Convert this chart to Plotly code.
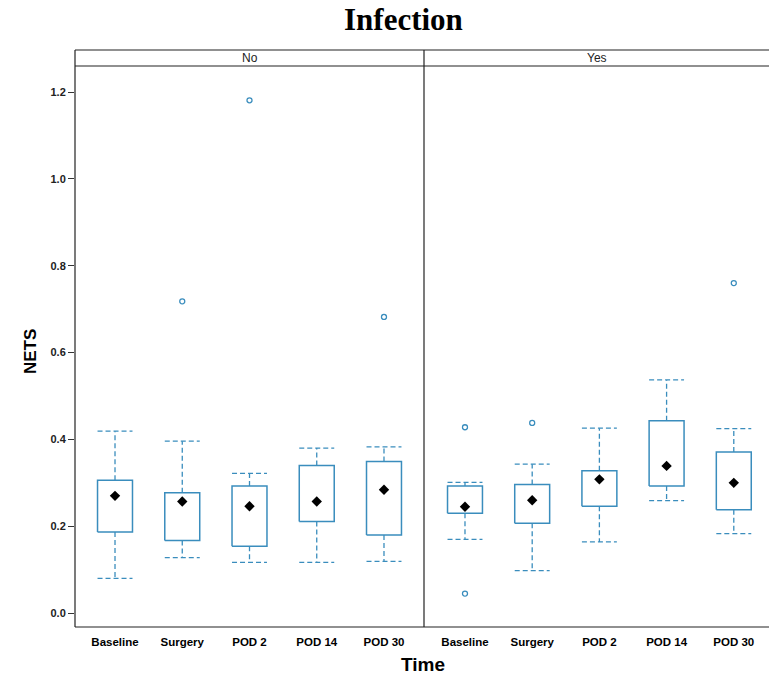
import plotly.graph_objects as go

times = ["Baseline", "Surgery", "POD 2", "POD 14", "POD 30"]

# Infection = No
no_lower = [0.080, 0.128, 0.117, 0.117, 0.119]
no_q1 = [0.187, 0.167, 0.154, 0.211, 0.180]
no_median = [0.270, 0.257, 0.246, 0.257, 0.284]
no_q3 = [0.306, 0.277, 0.293, 0.340, 0.349]
no_upper = [0.419, 0.396, 0.322, 0.380, 0.383]
no_out_x = ["Surgery", "POD 2", "POD 30"]
no_out_y = [0.718, 1.181, 0.682]

# Infection = Yes
yes_lower = [0.170, 0.098, 0.164, 0.259, 0.183]
yes_q1 = [0.230, 0.207, 0.246, 0.293, 0.238]
yes_median = [0.245, 0.260, 0.308, 0.339, 0.300]
yes_q3 = [0.293, 0.296, 0.328, 0.443, 0.371]
yes_upper = [0.301, 0.343, 0.426, 0.537, 0.425]
yes_out_x = ["Baseline", "Baseline", "Surgery", "POD 30"]
yes_out_y = [0.428, 0.045, 0.438, 0.760]

y_ticks = [0.0, 0.2, 0.4, 0.6, 0.8, 1.0, 1.2]

BLUE = "#3a8dbd"
W = 0.26
W_PX, H_PX = 769, 677
ML, MR, MT = 75, 0, 66
MB = H_PX - 627
PW = W_PX - ML - MR
PH = H_PX - MT - MB
SPLIT = 349 / PW
STRIP = 16 / PH


def px_x(page_x):
    return (page_x - ML) / PW


def px_y(page_y):
    return 1 - (page_y - MT) / PH


fig = go.Figure()


def add_panel(lower, q1, med, q3, upper, ox, oy, xa, ya):
    bx, by, wx, wy = [], [], [], []
    for i in range(len(times)):
        bx += [i - W, i + W, i + W, i - W, i - W, None]
        by += [q1[i], q1[i], q3[i], q3[i], q1[i], None]
        wx += [i, i, None, i - W, i + W, None, i, i, None, i - W, i + W, None]
        wy += [q3[i], upper[i], None, upper[i], upper[i], None,
               q1[i], lower[i], None, lower[i], lower[i], None]
    fig.add_trace(go.Scatter(x=wx, y=wy, mode="lines", xaxis=xa, yaxis=ya,
                             line=dict(color=BLUE, width=1.3, dash="5px,3px"),
                             showlegend=False, hoverinfo="skip"))
    fig.add_trace(go.Scatter(x=bx, y=by, mode="lines", xaxis=xa, yaxis=ya,
                             line=dict(color=BLUE, width=1.5),
                             showlegend=False, hoverinfo="skip"))
    fig.add_trace(go.Scatter(x=list(range(len(times))), y=med, mode="markers",
                             xaxis=xa, yaxis=ya,
                             marker=dict(symbol="diamond", size=8, color="black"),
                             showlegend=False))
    fig.add_trace(go.Scatter(x=[times.index(t) for t in ox], y=oy, mode="markers",
                             xaxis=xa, yaxis=ya,
                             marker=dict(symbol="circle-open", size=5, color=BLUE,
                                         line=dict(width=1.3, color=BLUE)),
                             showlegend=False))


add_panel(no_lower, no_q1, no_median, no_q3, no_upper, no_out_x, no_out_y, "x", "y")
add_panel(yes_lower, yes_q1, yes_median, yes_q3, yes_upper, yes_out_x, yes_out_y, "x2", "y2")

tickfont = dict(family="Liberation Sans, Arial", size=11.5, color="black", weight="bold")
xcommon = dict(tickmode="array", tickvals=list(range(len(times))), ticktext=times,
               showgrid=False, zeroline=False, showline=False, ticks="",
               tickfont=tickfont, ticklabelstandoff=6)
yrange = [-0.032, 1.26]

fig.update_layout(
    width=W_PX, height=H_PX,
    margin=dict(l=ML, r=MR, t=MT, b=MB),
    paper_bgcolor="white", plot_bgcolor="white",
    showlegend=False,
    xaxis=dict(domain=[0, SPLIT], range=[-0.595, 4.595], **xcommon),
    xaxis2=dict(domain=[SPLIT, 1], range=[-0.61, 4.524], anchor="y2", **xcommon),
    yaxis=dict(range=yrange, tickmode="array", tickvals=y_ticks,
               ticktext=[f"{v:.1f}" for v in y_ticks], showgrid=False, zeroline=False,
               showline=False, ticks="outside", ticklen=6, tickwidth=1,
               tickcolor="#333", tickfont=dict(family="Liberation Sans, Arial", size=11,
                                               color="#222", weight="bold")),
    yaxis2=dict(range=yrange, anchor="x2", showticklabels=False, showgrid=False,
                zeroline=False, showline=False, ticks=""),
)

line = dict(color="#222", width=1.2)
shapes = [
    dict(type="line", xref="paper", yref="paper", x0=0, x1=1, y0=0, y1=0, line=line),
    dict(type="line", xref="paper", yref="paper", x0=0, x1=1, y0=1 + STRIP, y1=1 + STRIP, line=line),
    dict(type="line", xref="paper", yref="paper", x0=0, x1=1, y0=1, y1=1, line=line),
    dict(type="line", xref="paper", yref="paper", x0=0, x1=0, y0=0, y1=1 + STRIP, line=line),
    dict(type="line", xref="paper", yref="paper", x0=SPLIT, x1=SPLIT, y0=0, y1=1 + STRIP, line=line),
]

ann_common = dict(xref="paper", yref="paper", showarrow=False, xanchor="center", yanchor="middle")
annotations = [
    dict(text="No", x=SPLIT / 2, y=1 + STRIP / 2,
         font=dict(family="Liberation Sans, Arial", size=12, color="#222"), **ann_common),
    dict(text="Yes", x=(SPLIT + 1) / 2, y=1 + STRIP / 2,
         font=dict(family="Liberation Sans, Arial", size=12, color="#222"), **ann_common),
    dict(text="<b>Infection</b>", x=px_x(403), y=px_y(20),
         font=dict(family="Liberation Serif, Times New Roman", size=31, color="black"),
         **ann_common),
    dict(text="<b>Time</b>", x=px_x(423), y=px_y(664),
         font=dict(family="Liberation Sans, Arial", size=19, color="black"), **ann_common),
    dict(text="<b>NETS</b>", x=px_x(30), y=px_y(352), textangle=-90,
         font=dict(family="Liberation Sans, Arial", size=17, color="black"), **ann_common),
]

fig.update_layout(shapes=shapes, annotations=annotations)
fig.write_html("out.html", config={"displayModeBar": False},
               post_script="document.body.style.margin='0';")
